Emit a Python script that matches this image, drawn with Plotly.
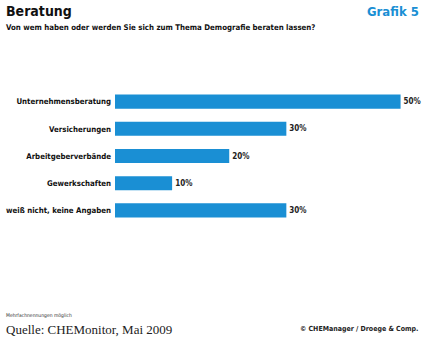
import plotly.graph_objects as go

categories = ["Unternehmensberatung", "Versicherungen", "Arbeitgeberverbände",
              "Gewerkschaften", "weiß nicht, keine Angaben"]
values = [50, 30, 20, 10, 30]
value_labels = [f"<b>{v}%</b>" for v in values]

BLUE = "#1a8fd4"
FONT = "DejaVu Sans Condensed"

fig = go.Figure(go.Bar(
    x=values, y=categories, orientation="h",
    marker=dict(color=BLUE, line=dict(width=0)),
    width=0.52,
    text=value_labels, textposition="outside", cliponaxis=False,
    textfont=dict(family=FONT, size=8, color="#222"),
))

fig.update_layout(
    width=425, height=338,
    margin=dict(l=115, r=13, t=88, b=114, autoexpand=False),
    paper_bgcolor="white", plot_bgcolor="white",
    showlegend=False,
    xaxis=dict(range=[0, 52], visible=False, automargin=False),
    yaxis=dict(autorange="reversed", showgrid=False, zeroline=False,
               automargin=False, ticks="", ticklabelstandoff=3,
               tickvals=categories, ticktext=[f"<b>{c}</b>" for c in categories],
               tickfont=dict(family=FONT, size=7.8, color="#111")),
    font=dict(family=FONT),
)

ann = [
    dict(text="<b>Beratung</b>", x=4, y=11, size=14, color="#111", xanchor="left", family=FONT),
    dict(text="<b>Von wem haben oder werden Sie sich zum Thema Demografie beraten lassen?</b>",
         x=4, y=27, size=7.8, color="#111", xanchor="left", family=FONT),
    dict(text="<b>Grafik 5</b>", x=421, y=11, size=13, color=BLUE, xanchor="right", family=FONT),
    dict(text="Mehrfachnennungen möglich", x=4, y=315, size=5, color="#333", xanchor="left", family=FONT),
    dict(text="Quelle: CHEMonitor, Mai 2009", x=4, y=329, size=13, color="#222", xanchor="left",
         family="Liberation Serif"),
    dict(text="<b>© CHEManager / Droege & Comp.</b>", x=421, y=329, size=7, color="#222",
         xanchor="right", family=FONT),
]

pw = 425 - 115 - 13
ph = 338 - 88 - 114
annotations = []
for a in ann:
    px = (a["x"] - 115) / pw
    py = 1 - (a["y"] - 88) / ph
    annotations.append(dict(
        text=a["text"], xref="paper", yref="paper", x=px, y=py,
        xanchor=a["xanchor"], yanchor="middle", showarrow=False,
        font=dict(family=a["family"], size=a["size"], color=a["color"]),
    ))
fig.update_layout(annotations=annotations)

fig.write_html("out.html")
